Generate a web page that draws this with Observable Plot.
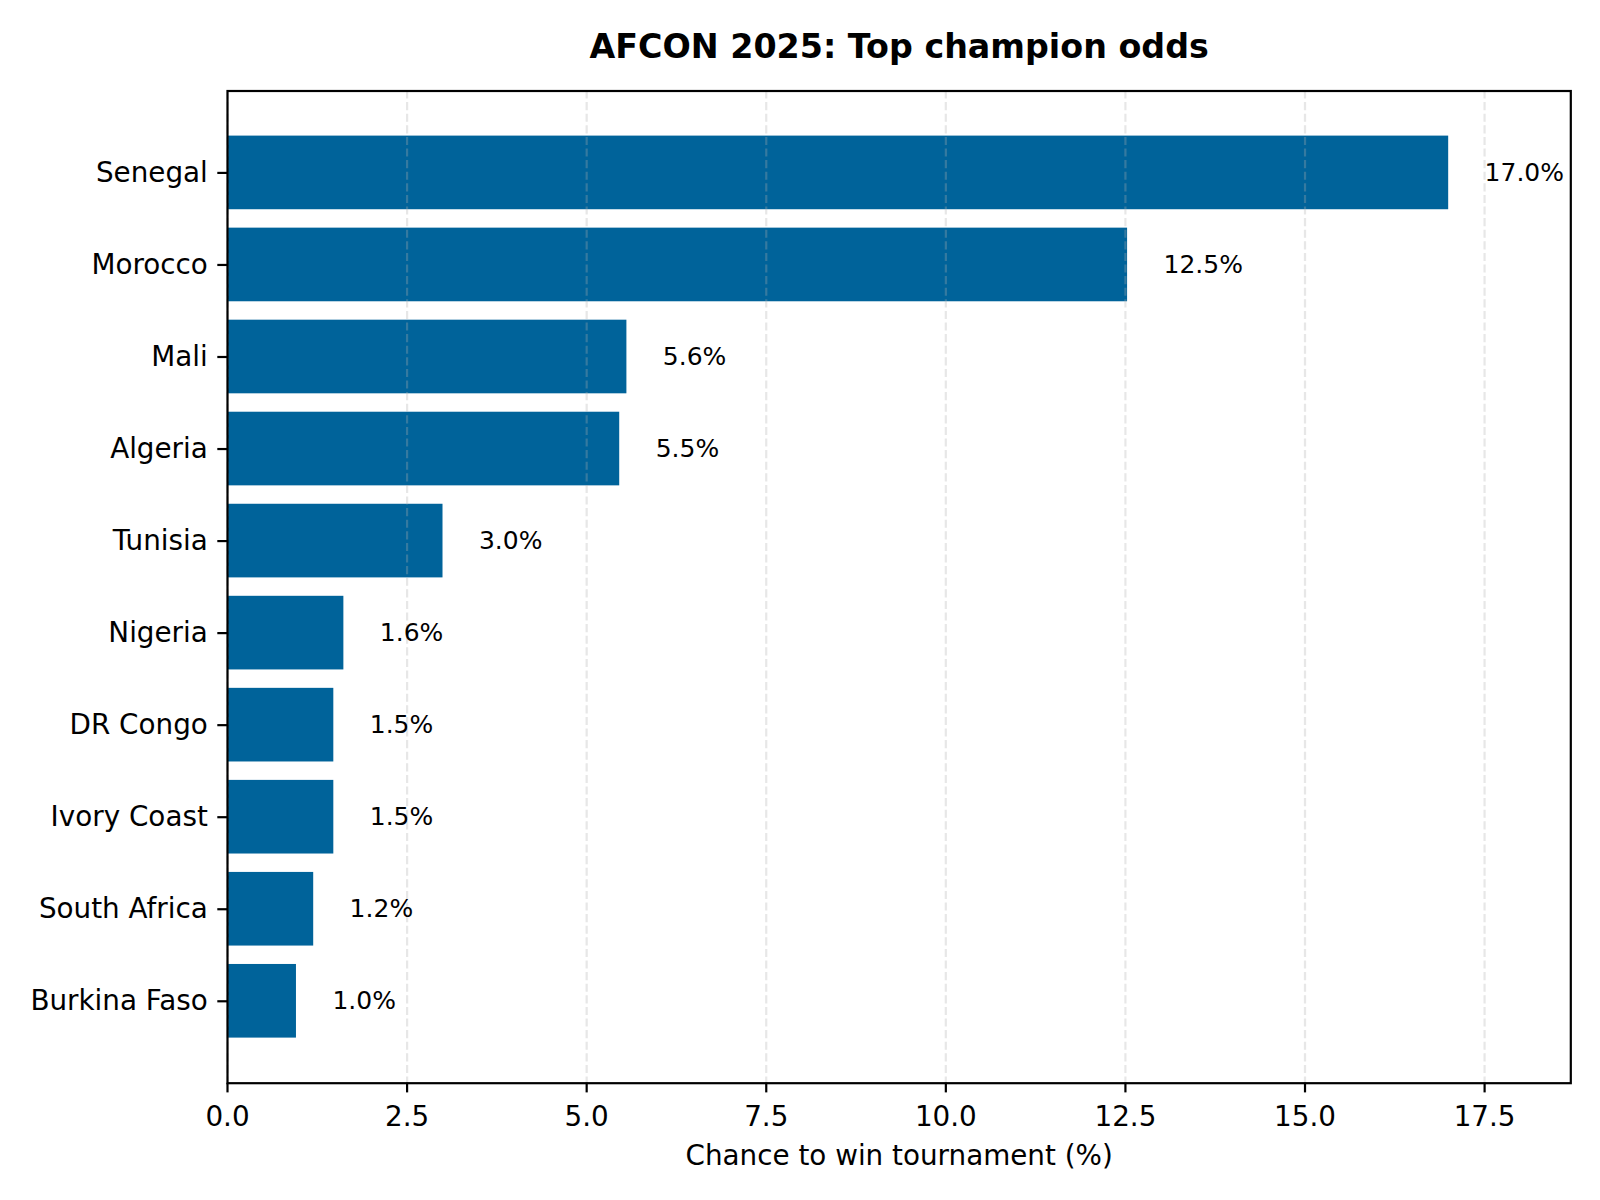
<!DOCTYPE html>
<html><head><meta charset="utf-8">
<script src="https://cdn.jsdelivr.net/npm/d3@7"></script>
<script src="https://cdn.jsdelivr.net/npm/@observablehq/plot@0.6"></script>
<style>body{margin:0;background:#fff} svg{display:block}</style>
</head><body><div id="chart"></div>
<script>
const countries = ["Senegal","Morocco","Mali","Algeria","Tunisia","Nigeria","DR Congo","Ivory Coast","South Africa","Burkina Faso"];
const odds = [17.0, 12.53, 5.56, 5.46, 3.0, 1.62, 1.48, 1.48, 1.2, 0.96];
const xTicks = [0, 2.5, 5, 7.5, 10, 12.5, 15, 17.5];
const title = "AFCON 2025: Top champion odds";
const xLabel = "Chance to win tournament (%)";

const data = countries.map((c, i) => ({country: c, value: odds[i]}));
const xMax = d3.max(odds) * 1.1;

const chart = Plot.plot({
  width: 1600, height: 1200,
  marginTop: 90.5, marginBottom: 117.3, marginLeft: 227, marginRight: 29.7,
  style: {fontFamily: "'DejaVu Sans', sans-serif", background: "#fff", color: "#000"},
  x: {domain: [0, xMax]},
  y: {domain: countries, paddingInner: 0.2, paddingOuter: 0.49, round: false},
  marks: [
    Plot.barX(data, {x: "value", y: "country", fill: "#00639a"}),
    Plot.ruleX(xTicks, {stroke: "#b0b0b0", strokeOpacity: 0.3, strokeWidth: 2.2, strokeDasharray: "8.1,3.5"}),
    Plot.text(data, {x: d => d.value + 0.5, y: "country", text: d => d.value.toFixed(1) + "%", textAnchor: "start", fontSize: 25, fill: "#000"}),
    Plot.frame({stroke: "#000", strokeWidth: 2.2}),
    Plot.axisX({ticks: xTicks, tickFormat: d => d.toFixed(1), tickSize: 9.7, tickPadding: 12.9, fontSize: 27.8, strokeWidth: 2.2, label: null}),
    Plot.axisY({tickSize: 9.7, tickPadding: 10, fontSize: 27.8, strokeWidth: 2.2, label: null}),
    Plot.text([title], {text: d => d, frameAnchor: "top", dy: -33.2, lineAnchor: "bottom", fontSize: 33.3, fontWeight: "bold", fill: "#000"}),
    Plot.text([xLabel], {text: d => d, frameAnchor: "bottom", dy: 81.3, lineAnchor: "bottom", fontSize: 27.8, fill: "#000"})
  ]
});
document.getElementById("chart").append(chart);
</script>
</body></html>
